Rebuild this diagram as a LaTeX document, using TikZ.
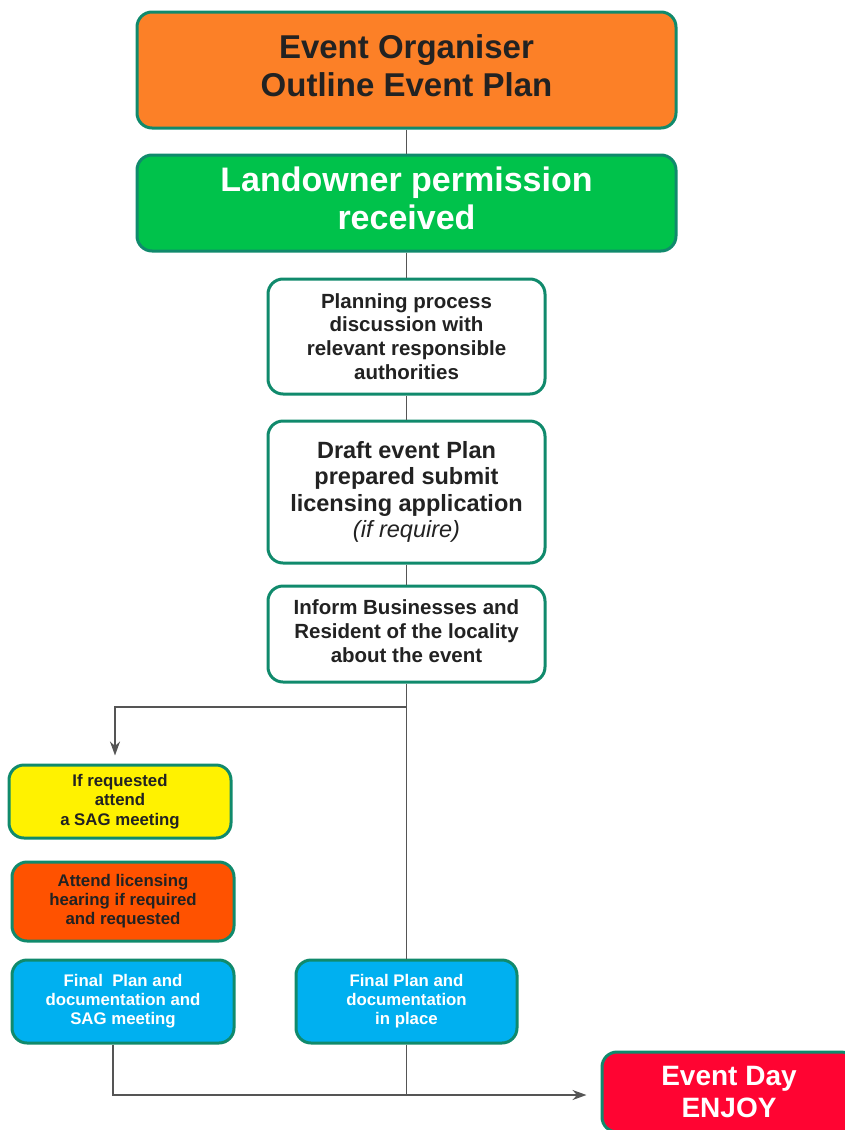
\documentclass[tikz,border=0pt]{standalone}
\usepackage{fontspec}
\setmainfont{Liberation Sans}
\usetikzlibrary{arrows.meta}
\definecolor{bord}{HTML}{108A6C}
\definecolor{cOrange}{HTML}{FC8027}
\definecolor{cGreen}{HTML}{00C24B}
\definecolor{cYellow}{HTML}{FFF200}
\definecolor{cRedOr}{HTML}{FF5200}
\definecolor{cBlue}{HTML}{00B0F0}
\definecolor{cRed}{HTML}{FF0432}
\definecolor{txt}{HTML}{222222}
\definecolor{conn}{HTML}{555555}
\newcommand{\liftup}[2]{\raisebox{#1}{\begin{tabular}{@{}c@{}}#2\end{tabular}}}
\tikzset{
  box/.style={draw=bord, line width=3pt, rounded corners=15pt, rectangle, align=center, inner sep=0pt, text=txt},
  fs/.style n args={2}{font=\bfseries\fontsize{#1}{#2}\selectfont},
  link/.style={draw=conn, line width=1.9pt},
  arr/.style={link, -{Stealth[length=14pt,width=10pt]}},
}
\begin{document}
\begin{tikzpicture}[x=1pt,y=-1pt]
\useasboundingbox (0,0) rectangle (845,1130);
\node[box, fill=cOrange, minimum width=539pt, minimum height=116pt, fs={33}{37.5}] (b1) at (406.5,70) {\liftup{4.5pt}{Event Organiser\\Outline Event Plan}};
\node[box, fill=cGreen, text=white, minimum width=539pt, minimum height=96pt, fs={34}{38}] (b2) at (406.5,203) {\liftup{3.5pt}{Landowner permission\\received}};
\node[box, fill=white, minimum width=277pt, minimum height=115pt, fs={20.5}{23.7}] (b3) at (406.5,336.5) {Planning process\\discussion with\\relevant responsible\\authorities};
\node[box, fill=white, minimum width=277pt, minimum height=142pt, fs={23.5}{26.5}] (b4) at (406.5,492) {Draft event Plan\\prepared submit\\licensing application\\{\mdseries\itshape(if require)}};
\node[box, fill=white, minimum width=277pt, minimum height=96pt, fs={20.5}{24}] (b5) at (406.5,634) {\liftup{3pt}{Inform Businesses and\\Resident of the locality\\about the event}};
\node[box, fill=cYellow, minimum width=222pt, minimum height=73pt, fs={16.8}{19.5}] (y1) at (120,801.5) {If requested\\attend\\a SAG meeting};
\node[box, fill=cRedOr, minimum width=222pt, minimum height=79pt, fs={16.8}{19}] (r1) at (123,901.5) {Attend licensing\\hearing if required\\and requested};
\node[box, fill=cBlue, text=white, minimum width=222pt, minimum height=83pt, fs={16.8}{19}] (bl) at (123,1001.5) {Final~~Plan and\\documentation and\\SAG meeting};
\node[box, fill=cBlue, text=white, minimum width=221pt, minimum height=83pt, fs={16.8}{19}] (br) at (406.5,1001.5) {Final Plan and\\documentation\\in place};
\node[box, fill=cRed, text=white, minimum width=254pt, minimum height=80pt, fs={28}{32}] (ev) at (729,1092) {Event Day\\ENJOY};
\coordinate (j1) at (406.5,707);
\coordinate (j2) at (406.5,1095);
\draw[link] (b1) -- (b2);
\draw[link] (b2) -- (b3);
\draw[link] (b3) -- (b4);
\draw[link] (b4) -- (b5);
\draw[link] (b5) -- (br);
\draw[arr, shorten >=8pt] (j1) -| ([xshift=-5pt]y1.north);
\draw[arr, shorten >=14pt] ([xshift=-10pt]bl.south) |- (ev.west |- j2);
\draw[link] (br) -- (j2);
\end{tikzpicture}
\end{document}
